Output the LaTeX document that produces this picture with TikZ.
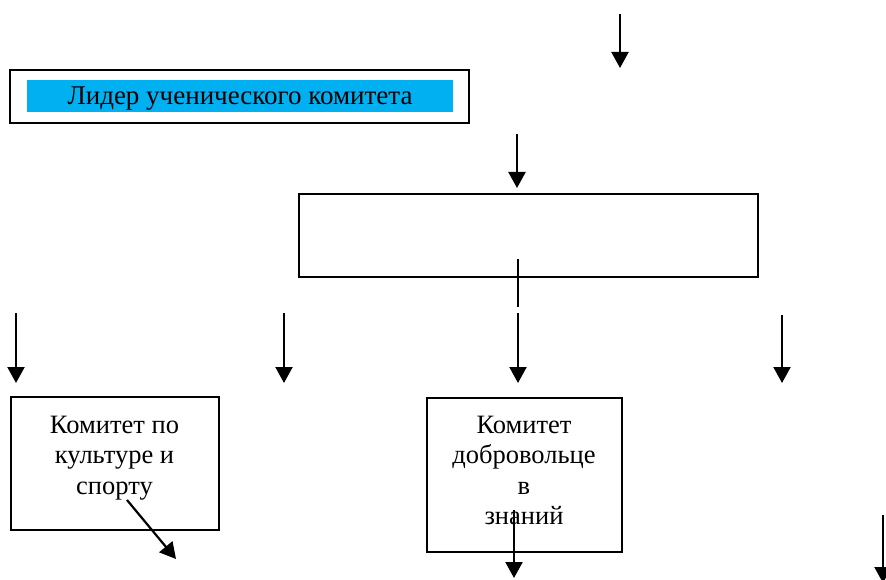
\documentclass[tikz,border=0pt]{standalone}
\usepackage{fontspec}
\setmainfont{Liberation Serif}
\usetikzlibrary{arrows.meta}
\definecolor{leadcyan}{HTML}{00B0F0}
\begin{document}
\begin{tikzpicture}[x=1pt,y=-1pt,
  box/.style={draw=black, line width=1.6pt, inner sep=0pt},
  txt/.style={font=\fontsize{26.5}{30.5}\selectfont, align=center, inner sep=0pt},
  arr/.style={-{Triangle[width=17pt,length=16pt]}, line width=2.2pt},
  stem/.style={line width=1.8pt}]
\useasboundingbox[fill=white] (0,0) rectangle (886,580);
% leader box
\node[box, line width=2pt, minimum width=459pt, minimum height=53pt] (leadout) at (239.5,97) {};
\node[fill=leadcyan, inner sep=0pt, minimum width=426pt, minimum height=32pt,
      font=\fontsize{27}{30}\selectfont, text height=22pt, text depth=4pt] (lead) at (240,96) {Лидер ученического комитета};
% middle box
\node[box, line width=2pt, minimum width=459pt, minimum height=83pt] (mid) at (528.5,235.5) {};
\coordinate (m1) at (518,259);
\coordinate (m2) at (518,307);
\draw[stem] (m1) -- (m2);
% culture box
\node[box, minimum width=208pt, minimum height=133pt] (cult) at (115,463.5) {};
\node[txt, anchor=north] (culttxt) at (114.5,415.5) {Комитет по\\культуре и\\спорту};
% volunteers box
\node[box, minimum width=195pt, minimum height=154pt] (vol) at (524.5,475) {};
\node[txt, anchor=north] (voltxt) at (524,415.5) {Комитет\\добровольце\\в\\знаний};
% free arrows
\coordinate (a1s) at (620,14);  \coordinate (a1e) at (620,68);
\coordinate (a2s) at (517,134); \coordinate (a2e) at (517,188);
\coordinate (a3s) at (16,313);  \coordinate (a3e) at (16,383);
\coordinate (a4s) at (284,313); \coordinate (a4e) at (284,383);
\coordinate (a5s) at (518,313); \coordinate (a5e) at (518,383);
\coordinate (a6s) at (782,315); \coordinate (a6e) at (782,383);
\coordinate (a7s) at (127,500); \coordinate (a7e) at (176,559);
\coordinate (a8s) at (514,510); \coordinate (a8e) at (514,578);
\coordinate (a9s) at (883,515); \coordinate (a9e) at (883,583);
\foreach \i in {1,...,9} \draw[arr] (a\i s) -- (a\i e);
\end{tikzpicture}
\end{document}
